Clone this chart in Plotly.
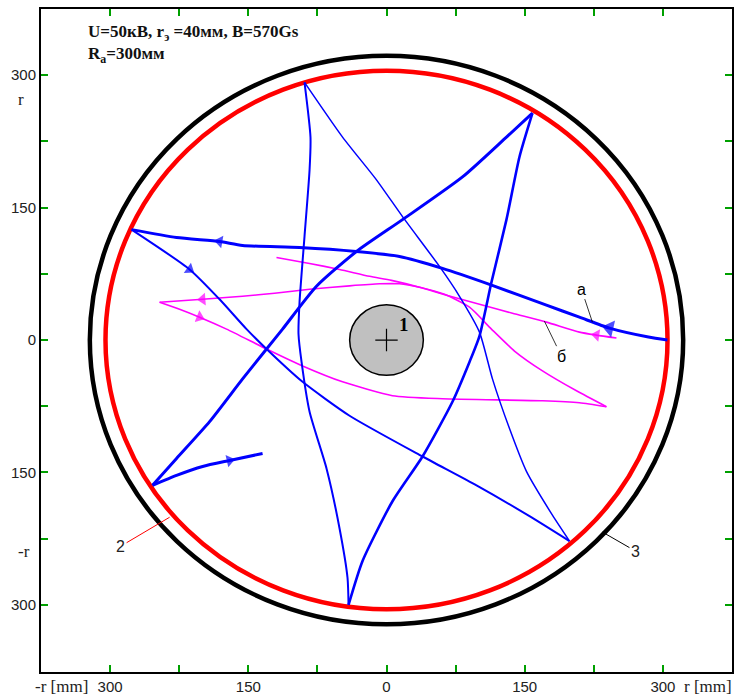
import plotly.graph_objects as go

# ---------------- data (mm) ----------------
tick_vals = [-300, -225, -150, -75, 0, 75, 150, 225, 300]
tick_text = ["300", "", "150", "", "0", "", "150", "", "300"]

anode_r = 305      # 2 (red)
chamber_r = 322    # 3 (black)
cathode_r = 40     # 1 (grey)

# blue trajectory "a" (7 segments between cusps)
blue1_x = [304.9, 284.3, 242.0, 209.4, 173.6, 111.8, 60.8, 14.1, -32.6, -94.4, -156.2, -181.2, -227.9, -276.7]
blue1_y = [0.0, 3.4, 13.5, 25.9, 39.5, 63.1, 81.2, 94.7, 100.3, 104.8, 107.1, 111.6, 116.1, 125.1]
blue2_x = [-276.7, -213.7, -181.2, -151.9, -130.2, -91.1, -40.1, 39.1, 97.7, 155.2, 198.6]
blue2_y = [125.1, 80.0, 46.2, 12.4, -10.1, -47.3, -85.7, -131.9, -164.6, -199.5, -227.7]
blue3_x = [198.6, 180.1, 151.9, 133.5, 115.0, 100.9, 79.2, 57.5, 17.4, -10.9, -47.7, -89.0]
blue3_y = [-227.7, -198.4, -148.8, -100.3, -44.0, 9.0, 49.6, 83.4, 139.8, 181.5, 229.9, 291.9]
blue4_x = [-89.0, -82.5, -83.5, -89.0, -94.4, -95.5, -92.2, -83.5, -65.1, -51.0, -42.3, -41.2]
blue4_y = [291.9, 229.9, 192.8, 117.2, 42.8, 6.8, -24.8, -81.2, -145.4, -213.1, -269.4, -299.9]
blue5_x = [-41.2, -26.0, 6.5, 39.1, 71.6, 90.1, 100.9, 113.9, 130.2, 144.3, 158.4]
blue5_y = [-299.9, -250.2, -182.6, -131.9, -69.9, -24.8, 4.5, 65.4, 136.4, 207.4, 257.0]
blue6_x = [158.4, 130.2, 82.5, 17.4, -32.6, -76.0, -112.8, -130.2, -156.2, -192.0, -227.9, -253.9]
blue6_y = [257.0, 229.9, 184.8, 136.4, 100.3, 60.9, 12.4, -10.1, -44.0, -92.4, -134.1, -164.6]
blue7_x = [-253.9, -227.9, -199.6, -170.3, -134.5]
blue7_y = [-164.6, -153.3, -143.2, -136.4, -128.5]

# magenta trajectory "б"
mag1_x = [249.6, 227.9, 209.4, 173.6, 136.7, 100.9, 65.1, 35.8, 5.4, -18.4, -51.0, -83.5, -119.4]
mag1_y = [2.3, 5.6, 9.0, 20.3, 30.4, 40.6, 50.7, 59.8, 67.6, 72.2, 80.0, 86.8, 93.6]
mag2_x = [238.7, 206.2, 169.3, 138.9, 113.9, 90.1, 62.9, 35.8, 14.1, -7.6, -40.1, -83.5, -121.5, -156.2, -199.6, -246.3]
mag2_y = [-75.5, -57.5, -34.9, -12.4, 12.4, 37.2, 51.8, 59.8, 63.7, 63.7, 61.4, 57.5, 53.0, 49.6, 46.2, 42.8]
mag3_x = [-246.3, -224.6, -202.9, -173.6, -130.2, -91.1, -47.7, 6.5, 60.8, 169.3, 209.4, 238.7]
mag3_y = [42.8, 34.9, 25.9, 12.4, -10.1, -29.3, -47.3, -63.1, -66.5, -68.8, -71.0, -75.5]

BLUE = "#0000ff"
MAG = "#ff00ff"
RED = "#ff0000"

fig = go.Figure()

def add_path(x, y, color, width):
    fig.add_trace(go.Scatter(x=x, y=y, mode="lines",
                             line=dict(color=color, width=width, shape="spline", smoothing=0.6),
                             hoverinfo="skip", showlegend=False))

def add_arrow(x, y, i, color, size):
    fig.add_trace(go.Scatter(x=[x[i - 1], x[i]], y=[y[i - 1], y[i]], mode="markers",
                             marker=dict(symbol="triangle-up", size=[0, size], color=color,
                                         angleref="previous", line=dict(width=0)),
                             hoverinfo="skip", showlegend=False))

# circles
fig.add_shape(type="circle", xref="x", yref="y", x0=-chamber_r, y0=-chamber_r, x1=chamber_r, y1=chamber_r,
              line=dict(color="black", width=4.5), layer="below")
fig.add_shape(type="circle", xref="x", yref="y", x0=-anode_r, y0=-anode_r, x1=anode_r, y1=anode_r,
              line=dict(color=RED, width=4.5), layer="below")
fig.add_shape(type="circle", xref="x", yref="y", x0=-cathode_r, y0=-cathode_r, x1=cathode_r, y1=cathode_r,
              line=dict(color="black", width=1.5), fillcolor="#c0c0c0", layer="below")

# magenta paths
for mx, my in [(mag1_x, mag1_y), (mag2_x, mag2_y), (mag3_x, mag3_y)]:
    add_path(mx, my, MAG, 1.6)

# blue paths
for bx, by, w in [(blue1_x, blue1_y, 3), (blue2_x, blue2_y, 2), (blue3_x, blue3_y, 1.5),
                  (blue4_x, blue4_y, 2), (blue5_x, blue5_y, 2.6), (blue6_x, blue6_y, 3),
                  (blue7_x, blue7_y, 3)]:
    add_path(bx, by, BLUE, w)

# arrows
add_arrow(blue1_x, blue1_y, 2, BLUE, 15)
add_arrow(blue1_x, blue1_y, 11, BLUE, 11)
add_arrow(blue2_x, blue2_y, 1, BLUE, 11)
add_arrow(blue7_x, blue7_y, 3, BLUE, 11)
add_arrow(mag1_x, mag1_y, 1, MAG, 11)
add_arrow(mag2_x, mag2_y, 14, MAG, 11)
add_arrow(mag3_x, mag3_y, 2, MAG, 11)

# cathode centre cross
fig.add_trace(go.Scatter(x=[0], y=[0], mode="markers",
                         marker=dict(symbol="cross-thin", size=16, line=dict(color="black", width=1.2)),
                         hoverinfo="skip", showlegend=False))

axis_common = dict(tickvals=tick_vals, ticktext=tick_text, ticks="inside", ticklen=7, tickwidth=2,
                   tickcolor="#00a000", showline=True, linecolor="black", linewidth=2,
                   mirror="allticks", showgrid=False, zeroline=False, automargin=False,
                   tickfont=dict(family="Liberation Sans, Arial", size=15, color="#222222"))

fig.update_layout(
    width=736, height=696,
    margin=dict(l=41, r=4, t=9, b=24, autoexpand=False),
    paper_bgcolor="white", plot_bgcolor="white",
    xaxis=dict(range=[-375, 375], **axis_common),
    yaxis=dict(range=[-376, 375], **axis_common),
    showlegend=False,
)

serif = "Liberation Serif, Times New Roman"
sans = "Liberation Sans, Arial"
ann = [
    dict(x=-326, y=362, xref="x", yref="y", xanchor="left", yanchor="top", align="left",
         text="<b>U=50кВ, r<sub>э</sub> =40мм, B=570Gs<br>R<sub>a</sub>=300мм</b>",
         font=dict(family=serif, size=17, color="#111111"), showarrow=False),
    dict(x=-322, y=-0.022, xref="x", yref="paper", xanchor="right", yanchor="middle",
         text="-r [mm]", font=dict(family=serif, size=17, color="#222222"), showarrow=False),
    dict(x=321, y=-0.022, xref="x", yref="paper", xanchor="left", yanchor="middle",
         text="r [mm]", font=dict(family=serif, size=17, color="#222222"), showarrow=False),
    dict(x=-0.036, y=273, xref="paper", yref="y", text="r", showarrow=False,
         font=dict(family=serif, size=17, color="#222222")),
    dict(x=-0.036, y=-239, xref="paper", yref="y", text="-r", showarrow=False,
         font=dict(family=serif, size=17, color="#222222")),
    dict(x=19, y=18, xref="x", yref="y", text="<b>1</b>", showarrow=False,
         font=dict(family=serif, size=19, color="black")),
    dict(x=223.5, y=20.3, xref="x", yref="y", text="a", ax=-11, ay=-33,
         showarrow=True, arrowhead=0, arrowwidth=0.8, arrowcolor="black",
         font=dict(family=sans, size=16, color="black")),
    dict(x=171.4, y=21.4, xref="x", yref="y", text="б", ax=17, ay=35,
         showarrow=True, arrowhead=0, arrowwidth=0.8, arrowcolor="black",
         font=dict(family=sans, size=16, color="black")),
    dict(x=-235.4, y=-200.7, xref="x", yref="y", text="2", ax=-49, ay=29,
         showarrow=True, arrowhead=0, arrowwidth=1, arrowcolor=RED,
         font=dict(family=sans, size=16, color="#222222")),
    dict(x=234.4, y=-217.5, xref="x", yref="y", text="3", ax=33, ay=19,
         showarrow=True, arrowhead=0, arrowwidth=1, arrowcolor="black",
         font=dict(family=sans, size=16, color="#222222")),
]
fig.update_layout(annotations=ann)

fig.write_html("out.html", config={"displayModeBar": False},
               post_script="document.body.style.margin='0';document.body.style.overflow='hidden';")
